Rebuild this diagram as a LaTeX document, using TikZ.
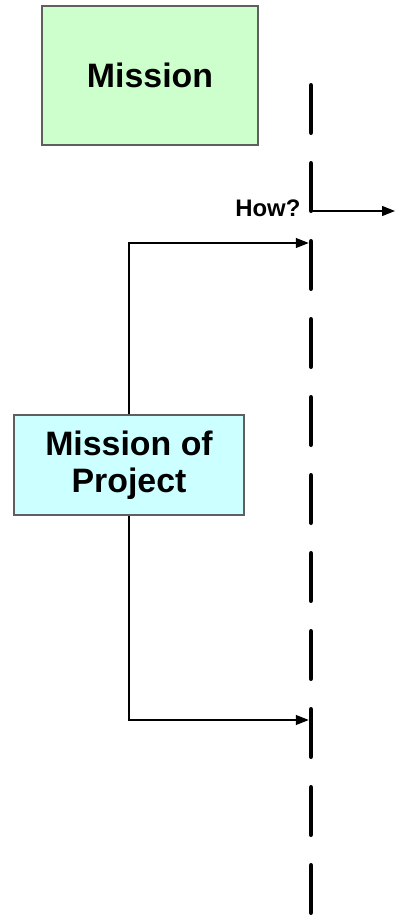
\documentclass[tikz,border=0pt]{standalone}
\usepackage{fontspec}
\setmainfont{Liberation Sans}
\usetikzlibrary{arrows.meta}

\definecolor{missiongreen}{HTML}{CCFFCC}
\definecolor{projectcyan}{HTML}{CCFFFF}
\definecolor{boxgray}{HTML}{5F5F5F}

\begin{document}
\begin{tikzpicture}[x=1bp,y=-1bp]
 \tikzstyle{every path}=[line width=1.3bp]

\tikzstyle{goalbox}=[draw=boxgray,inner sep=0pt,align=center,font=\bfseries]
\tikzstyle{link}=[-{Triangle[length=13bp,width=10bp]}]
\tikzstyle{divider}=[line width=4.5bp,line cap=round,dash pattern=on 47.5bp off 30.5bp]

\useasboundingbox (0,0) rectangle (395,917);

%% Boxes
\node [goalbox,fill=missiongreen,minimum width=216bp,minimum height=139bp,
  font=\bfseries\fontsize{34}{40}\selectfont] (mission) at (150,75.5) {Mission};
\node [goalbox,fill=projectcyan,minimum width=230bp,minimum height=100bp,
  font=\bfseries\fontsize{34}{39}\selectfont] (project) at (129,465) {Mission of\\[-2bp]Project};

%% Dashed divider
\coordinate (divtop) at (311,85.25);
\coordinate (divend) at (311,912.75);
\draw [divider] (divtop) -- (divend);

%% How? arrow
\coordinate (howstart) at (311,211);
\coordinate (howend) at (395,211);
\draw [link] (howstart) -- (howend);
\node [inner sep=0pt,anchor=base east,font=\bfseries\fontsize{24}{28}\selectfont] (how) at (301,216.7) {How?};

%% Links from project
\coordinate (hitup) at (308.75,243);
\coordinate (hitdown) at (308.75,720);
\draw [link] (project.north) |- (hitup);
\draw [link] (project.south) |- (hitdown);

\end{tikzpicture}
\end{document}
